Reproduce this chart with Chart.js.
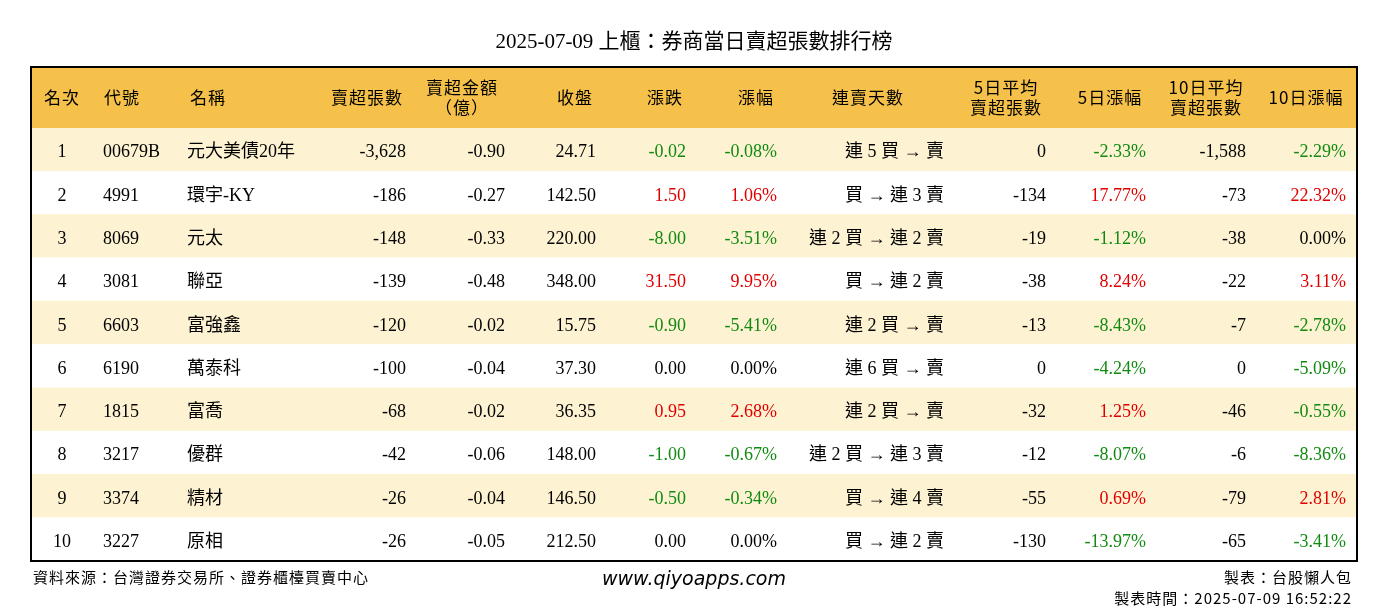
<!DOCTYPE html><html><head><meta charset="utf-8">
<script src="https://cdn.jsdelivr.net/npm/chart.js@4/dist/chart.umd.min.js"></script>
<style>html,body{margin:0;padding:0;background:#fff}canvas{display:block}</style></head><body>
<canvas id="c" width="1388" height="612"></canvas>
<script>
const title = "2025-07-09 上櫃：券商當日賣超張數排行榜";
const ranks = ["1","2","3","4","5","6","7","8","9","10"];
const codes = ["00679B","4991","8069","3081","6603","6190","1815","3217","3374","3227"];
const names = ["元大美債20年","環宇-KY","元太","聯亞","富強鑫","萬泰科","富喬","優群","精材","原相"];
const netSell = [-3628,-186,-148,-139,-120,-100,-68,-42,-26,-26];
const amount = [-0.90,-0.27,-0.33,-0.48,-0.02,-0.04,-0.02,-0.06,-0.04,-0.05];
const closeP = [24.71,142.50,220.00,348.00,15.75,37.30,36.35,148.00,146.50,212.50];
const change = [-0.02,1.50,-8.00,31.50,-0.90,0.00,0.95,-1.00,-0.50,0.00];
const changePct = [-0.08,1.06,-3.51,9.95,-5.41,0.00,2.68,-0.67,-0.34,0.00];
const streak = ["連 5 買 → 賣","買 → 連 3 賣","連 2 買 → 連 2 賣","買 → 連 2 賣","連 2 買 → 賣","連 6 買 → 賣","連 2 買 → 賣","連 2 買 → 連 3 賣","買 → 連 4 賣","買 → 連 2 賣"];
const avg5 = [0,-134,-19,-38,-13,0,-32,-12,-55,-130];
const pct5 = [-2.33,17.77,-1.12,8.24,-8.43,-4.24,1.25,-8.07,0.69,-13.97];
const avg10 = [-1588,-73,-38,-22,-7,0,-46,-6,-79,-65];
const pct10 = [-2.29,22.32,0.00,3.11,-2.78,-5.09,-0.55,-8.36,2.81,-3.41];
const headers = [["名次"],["代號"],["名稱"],["賣超張數"],["賣超金額","（億）"],["收盤"],["漲跌"],["漲幅"],["連賣天數"],["5日平均","賣超張數"],["5日漲幅"],["10日平均","賣超張數"],["10日漲幅"]];

const fmtInt = v => v.toLocaleString("en-US");
const col = v => v>0?"#e00000":(v<0?"#118a11":"#000");
const cols = [[62,"center"],[103,"left"],[187,"left"],[406,"right"],[505,"right"],[596,"right"],[686,"right"],[777,"right"],[944,"right"],[1046,"right"],[1146,"right"],[1246,"right"],[1346,"right"]];
const hdrX = [62,122,208,367,462,575,665,756,868,1006,1110,1206,1306];

const serif = '"Liberation Serif","Noto Sans CJK TC",serif';
const tablePlugin = {
  id:"table",
  afterDraw(chart){
    const ctx=chart.ctx, a=chart.chartArea, ys=chart.scales.y;
    ctx.save();
    ctx.fillStyle="#000"; ctx.textAlign="center"; ctx.textBaseline="middle";
    ctx.font='21px '+serif; ctx.fillText(title,694,42);
    ctx.fillStyle="#f5c14a"; ctx.fillRect(a.left,67,a.right-a.left,a.top-67);
    ctx.fillStyle="#000"; ctx.font='17px "Noto Sans CJK TC",sans-serif';
    ctx.letterSpacing="1px";
    headers.forEach((h,i)=>{
      if(h.length===1) ctx.fillText(h[0],hdrX[i],98);
      else {ctx.fillText(h[0],hdrX[i],88);ctx.fillText(h[1],hdrX[i],108);}
    });
    ctx.letterSpacing="0px";
    for(let r=0;r<ranks.length;r++){
      const y=ys.getPixelForValue(r)+3;
      const cells=[
        [ranks[r],"#000"],[codes[r],"#000"],[names[r],"#000"],[fmtInt(netSell[r]),"#000"],
        [amount[r].toFixed(2),"#000"],[closeP[r].toFixed(2),"#000"],
        [change[r].toFixed(2),col(change[r])],[changePct[r].toFixed(2)+"%",col(changePct[r])],
        [streak[r],"#000"],[fmtInt(avg5[r]),"#000"],[pct5[r].toFixed(2)+"%",col(pct5[r])],
        [fmtInt(avg10[r]),"#000"],[pct10[r].toFixed(2)+"%",col(pct10[r])]];
      cells.forEach((c,i)=>{
        ctx.textAlign=cols[i][1]; ctx.fillStyle=c[1];
        ctx.font='18px '+serif; ctx.fillText(c[0],cols[i][0],y);
      });
    }
    ctx.strokeStyle="#000"; ctx.lineWidth=2;
    ctx.strokeRect(a.left,67,a.right-a.left,a.bottom-67);
    ctx.fillStyle="#000"; ctx.font='15px "Noto Sans CJK TC",sans-serif';
    ctx.letterSpacing="1px";
    ctx.textAlign="left"; ctx.fillText("資料來源：台灣證券交易所、證券櫃檯買賣中心",33,577);
    ctx.textAlign="right"; ctx.fillText("製表：台股懶人包",1352,577);
    ctx.fillText("製表時間：2025-07-09 16:52:22",1352,598);
    ctx.letterSpacing="0px";
    ctx.textAlign="center"; ctx.font='italic 19px "DejaVu Sans",sans-serif';
    ctx.fillText("www.qiyoapps.com",694,580);
    ctx.restore();
  }
};
new Chart(document.getElementById("c"),{
  type:"bar",
  data:{labels:ranks,datasets:[{data:ranks.map(()=>1),
    backgroundColor:ranks.map((_,i)=>i%2===0?"#fdf3d2":"#ffffff"),
    barPercentage:1,categoryPercentage:1,borderWidth:0}]},
  options:{indexAxis:"y",responsive:false,animation:false,devicePixelRatio:1,
    layout:{padding:{left:31,right:31,top:128,bottom:51}},
    plugins:{legend:{display:false},tooltip:{enabled:false}},
    scales:{x:{display:false,min:0,max:1},y:{display:false}}},
  plugins:[tablePlugin]
});
</script></body></html>
